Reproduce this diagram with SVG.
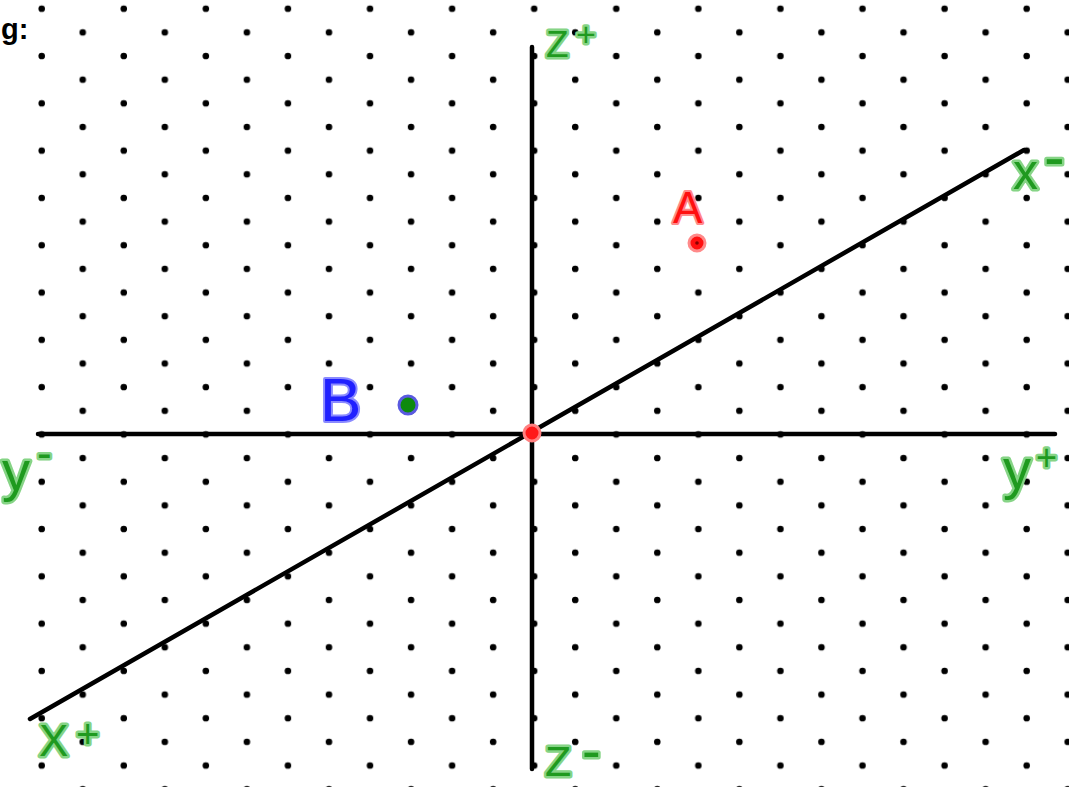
<svg xmlns="http://www.w3.org/2000/svg" width="1069" height="787" viewBox="0 0 1069 787">
<defs>
<pattern id="dots" patternUnits="userSpaceOnUse" x="21.18" y="-3.125" width="82.08" height="47.3">
<circle cx="20.52" cy="11.825" r="3.3" fill="#000"/>
<circle cx="61.56" cy="35.475" r="3.3" fill="#000"/>
</pattern>
<style>
.axis{stroke:#000;stroke-width:4.5;stroke-linecap:round;fill:none}
.lbl{font-family:"Liberation Sans",Arial,sans-serif;fill:#1f9a1f;stroke:#86d486;stroke-width:5;stroke-linejoin:round;paint-order:stroke}
.pt{font-family:"Liberation Sans",Arial,sans-serif;stroke-width:4;stroke-linejoin:round;paint-order:stroke}
</style>
</defs>
<rect width="1069" height="787" fill="#fff"/>
<rect x="36" y="0" width="1033" height="787" fill="url(#dots)"/>
<text id="caption" x="1" y="39" font-family="Liberation Sans,Arial,sans-serif" font-weight="bold" font-size="29">g:</text>
<g id="connectors">
<line class="axis" x1="38" y1="434" x2="1055" y2="434"/>
<line class="axis" x1="532" y1="47" x2="532" y2="769"/>
<line class="axis" x1="30" y1="719" x2="1024" y2="150"/>
</g>
<g id="origin"><circle cx="532" cy="433" r="8" fill="#ff1a1a" stroke="#ff8080" stroke-width="3"/></g>
<g id="label-zplus"><text class="lbl" x="546" y="57" font-size="37">Z<tspan x="576" y="46" font-size="34">+</tspan></text></g>
<g id="label-xminus"><text class="lbl" x="1013" y="189" font-size="50">x<tspan x="1044" y="178" font-size="62">-</tspan></text></g>
<g id="label-yminus"><text class="lbl" x="2" y="490" font-size="56">y<tspan x="37" y="468" font-size="44">-</tspan></text></g>
<g id="label-yplus"><text class="lbl" x="1003" y="488" font-size="56">y<tspan x="1036" y="470" font-size="36">+</tspan></text></g>
<g id="label-xplus"><text class="lbl" x="39" y="756" font-size="44">X<tspan x="76" y="748" font-size="40">+</tspan></text></g>
<g id="label-zminus"><text class="lbl" x="545" y="776" font-size="43">Z<tspan x="582" y="770" font-size="56">-</tspan></text></g>
<g id="pointA">
<text class="pt" x="673" y="223" font-size="44" fill="#ff1010" stroke="#ff8a8a">A</text>
<circle cx="697" cy="243" r="8" fill="#ff1010" stroke="#ff8a8a" stroke-width="3"/>
<circle cx="697" cy="243" r="1.8" fill="#800"/>
</g>
<g id="pointB">
<text class="pt" x="320" y="421" font-size="62" fill="#2020ff" stroke="#8a8aff">B</text>
<circle cx="408" cy="405" r="9" fill="#0d8a0d" stroke="#5a5ae0" stroke-width="3"/>
</g>
</svg>
